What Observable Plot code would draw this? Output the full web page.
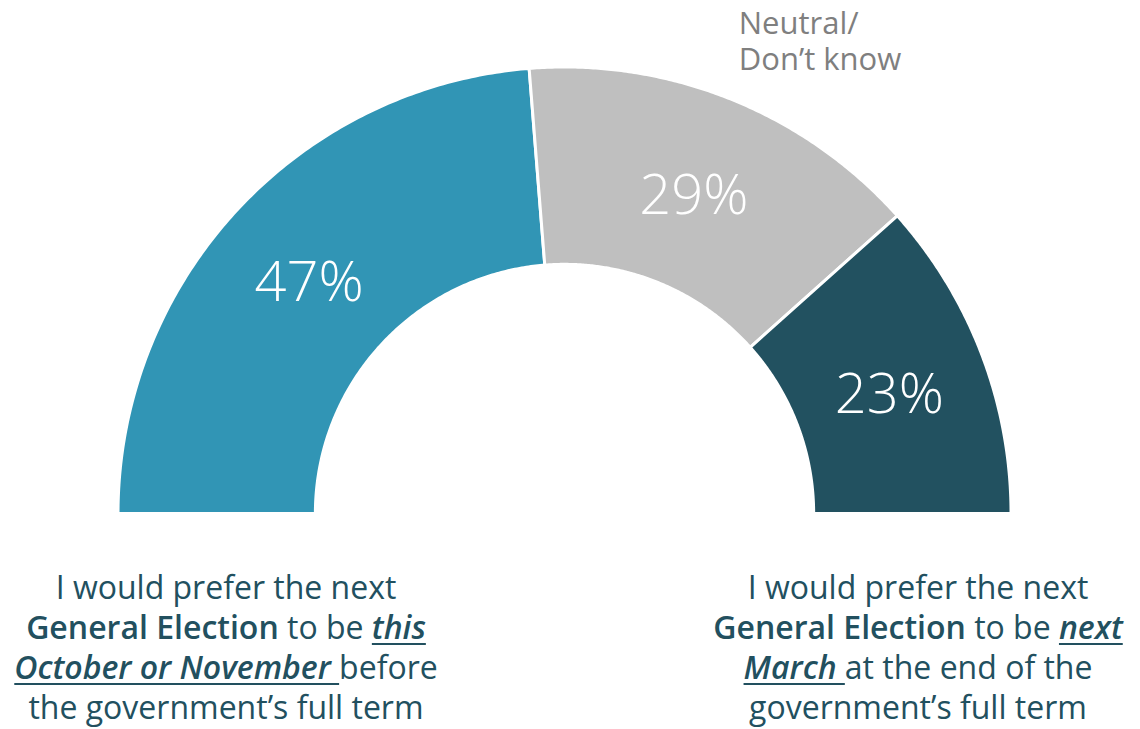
<!DOCTYPE html>
<html>
<head>
<meta charset="utf-8">
<script src="https://cdn.jsdelivr.net/npm/d3@7"></script>
<script src="https://cdn.jsdelivr.net/npm/@observablehq/plot@0.6"></script>
<style>
  html, body { margin: 0; padding: 0; background: #fff; }
  #wrap { position: relative; width: 1140px; height: 729px; overflow: hidden; font-family: "Open Sans", sans-serif; }
  #chart svg { display: block; }
  #captions { position: relative; width: 1140px; height: 169px; }
  .cap { position: absolute; top: 7px; width: 520px; text-align: center; color: #22505f;
         font-size: 32px; line-height: 40px; font-weight: 400; white-space: nowrap; }
  .cap b { font-weight: 600; }
  .cap i { font-style: italic; font-weight: 600; text-decoration: underline; text-decoration-thickness: 2px; text-underline-offset: 4px; }
</style>
</head>
<body>
<div id="wrap">
  <div id="chart"></div>
  <div id="captions"></div>
</div>
<script>
// ---- data ----
const categories = ["this October or November", "Neutral/Don’t know", "next March"];
const values = [47, 29, 23];
const colors = ["#3195b5", "#bfbfbf", "#225160"];
const neutralLabel = "Neutral/\nDon’t know";
// caption segments: [text, style]  style: n = normal, b = bold, u = italic underlined
const leftCaption = [
  [["I would prefer the next", "n"]],
  [["General Election", "b"], [" to be ", "n"], ["this", "u"]],
  [["October or November ", "u"], ["before", "n"]],
  [["the government’s full term", "n"]]
];
const rightCaption = [
  [["I would prefer the next", "n"]],
  [["General Election", "b"], [" to be ", "n"], ["next", "u"]],
  [["March ", "u"], ["at the end of the", "n"]],
  [["government’s full term", "n"]]
];

// ---- geometry (unit circle, half doughnut) ----
const rIn = 0.558;
const total = d3.sum(values);
const polys = [];
const labels = [];
let cum = 0;
values.forEach((v, i) => {
  const a0 = cum / total * Math.PI, a1 = (cum + v) / total * Math.PI;
  cum += v;
  const n = 160;
  const pts = [];
  for (let k = 0; k <= n; k++) {
    const a = a0 + (a1 - a0) * k / n;
    pts.push({cat: categories[i], x: -Math.cos(a), y: Math.sin(a)});
  }
  for (let k = n; k >= 0; k--) {
    const a = a0 + (a1 - a0) * k / n;
    pts.push({cat: categories[i], x: -rIn * Math.cos(a), y: rIn * Math.sin(a)});
  }
  pts.push({...pts[0]});
  polys.push(...pts);
  const am = (a0 + a1) / 2, rm = (1 + rIn) / 2;
  labels.push({text: v + "%", x: -rm * Math.cos(am), y: rm * Math.sin(am), am});
});
const neutralMid = labels[1].am;
const neutralPos = [{text: neutralLabel, x: -1.05 * Math.cos(neutralMid), y: 1.05 * Math.sin(neutralMid)}];

const chart = Plot.plot({
  width: 1140,
  height: 560,
  margin: 0,
  x: {domain: [-1.2632, 1.2900], axis: null},
  y: {domain: [-0.1053, 1.1489], axis: null},
  color: {domain: categories, range: colors},
  marks: [
    Plot.line(polys, {x: "x", y: "y", z: "cat", fill: "cat", stroke: "white", strokeWidth: 3, curve: "linear"}),
    Plot.text(labels, {x: "x", y: "y", dy: 6, text: "text", fill: "white", fontSize: 56, fontWeight: 300, fontFamily: "Open Sans"}),
    Plot.text(neutralPos, {x: "x", y: "y", dy: -8, text: "text", fill: "#7f7f7f", fontSize: 31, fontFamily: "Open Sans",
      textAnchor: "start", lineAnchor: "bottom", lineHeight: 1.16})
  ]
});
document.getElementById("chart").appendChild(chart);

function renderCaption(lines, centerX) {
  const div = document.createElement("div");
  div.className = "cap";
  div.style.left = (centerX - 260) + "px";
  div.innerHTML = lines.map(line => line.map(([t, s]) => {
    const esc = t.replace(/&/g, "&amp;").replace(/</g, "&lt;").replace(/ /g, "&nbsp;");
    return s === "b" ? `<b>${esc}</b>` : s === "u" ? `<i>${esc}</i>` : `<span>${esc}</span>`;
  }).join("")).join("<br>");
  document.getElementById("captions").appendChild(div);
}
renderCaption(leftCaption, 226);
renderCaption(rightCaption, 918);
</script>
</body>
</html>
